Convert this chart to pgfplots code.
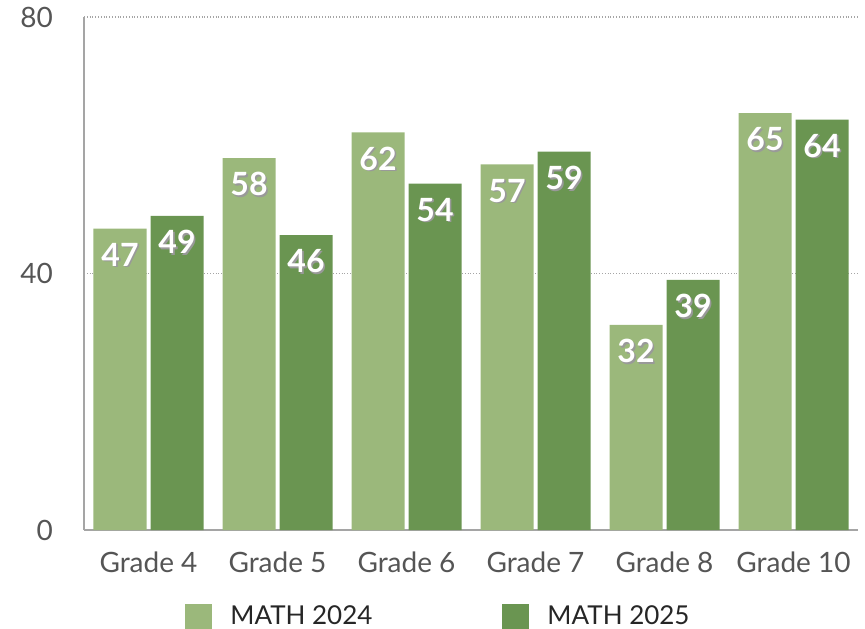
\documentclass[border=0pt]{standalone}
\usepackage{pgfplots}
\pgfplotsset{compat=1.18}
\usepackage{fontspec}
\setmainfont{Lato}
\definecolor{lightg}{RGB}{155,184,123}
\definecolor{darkg}{RGB}{106,149,81}
\definecolor{axgray}{RGB}{165,165,165}
\definecolor{ticktext}{RGB}{85,85,85}
\newcommand\shadowtext[1]{\leavevmode\rlap{\kern0.8pt\raisebox{-0.8pt}{\textcolor{black!40}{#1}}}#1}
\begin{document}
\begin{tikzpicture}
\useasboundingbox (-42pt,-49pt) rectangle (390.5pt,265pt);
\begin{axis}[
  at={(0,0)}, anchor=south west, scale only axis,
  width=387pt, height=256.5pt,
  ymin=0, ymax=80, xmin=-0.5, xmax=5.5,
  ytick={0,40,80},
  xtick={0,1,2,3,4,5},
  xticklabels={Grade 4,Grade 5,Grade 6,Grade 7,Grade 8,Grade 10},
  axis x line*=bottom, axis y line*=left,
  axis line style={axgray, line width=0.75pt, -},
  major tick length=0pt,
  ymajorgrids,
  grid style={densely dotted, axgray, line width=0.6pt},
  /pgf/number format/assume math mode=true,
  tick label style={font=\fontsize{14}{16}\selectfont, text=ticktext},
  yticklabel style={anchor=east, xshift=-12pt},
  xticklabel style={anchor=north, yshift=-7.5pt},
  ybar=2pt, bar width=26.5pt,
  nodes near coords={\shadowtext{\pgfmathprintnumber{\pgfplotspointmeta}}},
  every node near coord/.append style={font=\fontsize{16}{19}\selectfont\bfseries, text=white, anchor=center, yshift=-13.5pt},
  legend image code/.code={\fill[#1] (0pt,-6.75pt) rectangle (13.5pt,6.75pt); \path (20.5pt,0pt);},
  legend style={at={(0.1227,-0.132)}, anchor=north west, draw=none, fill=none,
    legend columns=2, font=\fontsize{13}{15}\selectfont, text=black!85,
    /tikz/every even column/.append style={column sep=63pt}},
]
\addplot[fill=lightg, draw=none] coordinates {(0,47) (1,58) (2,62) (3,57) (4,32) (5,65)};
\addplot[fill=darkg, draw=none] coordinates {(0,49) (1,46) (2,54) (3,59) (4,39) (5,64)};
\legend{MATH 2024, MATH 2025}
\end{axis}
\end{tikzpicture}
\end{document}
